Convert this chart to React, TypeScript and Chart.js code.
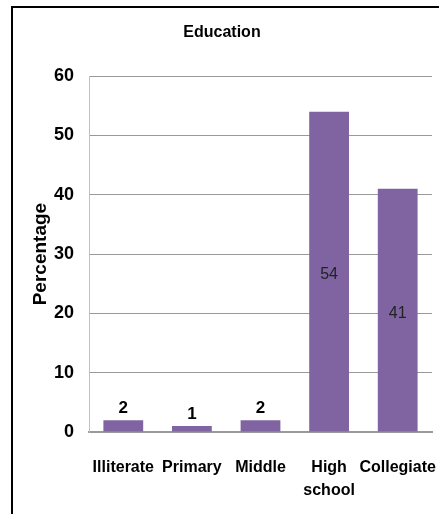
import React, { useEffect, useRef } from "react";
import { Chart, registerables } from "chart.js";

Chart.register(...registerables);

const categories: (string | string[])[] = ["Illiterate", "Primary", "Middle", ["High", "school"], "Collegiate"];
const percentages: number[] = [2, 1, 2, 54, 41];
const yTicks: number[] = [0, 10, 20, 30, 40, 50, 60];

const FONT = "'Liberation Sans', Arial, sans-serif";
const BAR_COLOR = "#8064A2";

// Writes each bar's value: inside tall bars, above short ones.
const valueLabels = {
  id: "valueLabels",
  afterDatasetsDraw(chart: Chart) {
    const { ctx } = chart;
    const meta = chart.getDatasetMeta(0);
    const data = chart.data.datasets[0].data as number[];
    ctx.save();
    ctx.textAlign = "center";
    meta.data.forEach((bar: any, i: number) => {
      const v = data[i];
      if (v > 10) {
        ctx.font = `normal 16px ${FONT}`;
        ctx.fillStyle = "#222";
        ctx.textBaseline = "middle";
        ctx.fillText(String(v), bar.x, (bar.y + bar.base) / 2 + 3);
      } else {
        ctx.font = `bold 17px ${FONT}`;
        ctx.fillStyle = "#000";
        ctx.textBaseline = "bottom";
        ctx.fillText(String(v), bar.x, bar.y - 3);
      }
    });
    ctx.restore();
  },
};

export default function App() {
  const canvasRef = useRef<HTMLCanvasElement | null>(null);

  useEffect(() => {
    if (!canvasRef.current) return;
    const chart = new Chart(canvasRef.current, {
      type: "bar",
      data: {
        labels: categories,
        datasets: [
          {
            label: "Percentage",
            data: percentages,
            backgroundColor: BAR_COLOR,
            barPercentage: 0.58,
            categoryPercentage: 1,
          },
        ],
      },
      options: {
        responsive: false,
        animation: false,
        layout: { padding: { left: 12, right: 7, top: 0, bottom: 0 } },
        plugins: {
          legend: { display: false },
          tooltip: { enabled: false },
          title: {
            display: true,
            text: "Education",
            color: "#000",
            font: { family: FONT, size: 16, weight: "bold" },
            padding: { top: 23, bottom: 34 },
          },
        },
        scales: {
          x: {
            grid: { display: false, drawTicks: false },
            border: { display: true, color: "#999", width: 2 },
            ticks: {
              color: "#000",
              padding: 24,
              maxRotation: 0,
              autoSkip: false,
              font: { family: FONT, size: 16, weight: "bold", lineHeight: 1.45 },
            },
            afterFit(scale: any) {
              scale.height = 82;
              scale.paddingLeft = 0;
              scale.paddingRight = 0;
            },
          },
          y: {
            min: 0,
            max: 60,
            afterBuildTicks(scale: any) {
              scale.ticks = yTicks.map((v) => ({ value: v }));
            },
            grid: { color: "#999", lineWidth: 1, drawTicks: false },
            border: { display: true, color: "#c0c0c0", width: 1 },
            ticks: {
              color: "#000",
              padding: 15,
              font: { family: FONT, size: 18, weight: "bold" },
            },
            title: {
              display: true,
              text: "Percentage",
              color: "#000",
              font: { family: FONT, size: 19, weight: "bold" },
              padding: { top: 17, bottom: 0 },
            },
            afterFit(scale: any) {
              scale.width = 77;
              scale.paddingTop = 0;
              scale.paddingBottom = 0;
            },
          },
        },
      },
      plugins: [valueLabels],
    });
    return () => chart.destroy();
  }, []);

  return (
    <div style={{ position: "fixed", left: 0, top: 0, width: 439, height: 514, background: "#fff" }}>
      <canvas ref={canvasRef} width={439} height={514} style={{ position: "absolute", left: 0, top: 0 }} />
      <div
        style={{
          position: "absolute",
          left: 11,
          top: 6,
          width: 428,
          height: 508,
          borderLeft: "2px solid #000",
          borderTop: "2px solid #000",
          boxSizing: "border-box",
          pointerEvents: "none",
        }}
      />
    </div>
  );
}
